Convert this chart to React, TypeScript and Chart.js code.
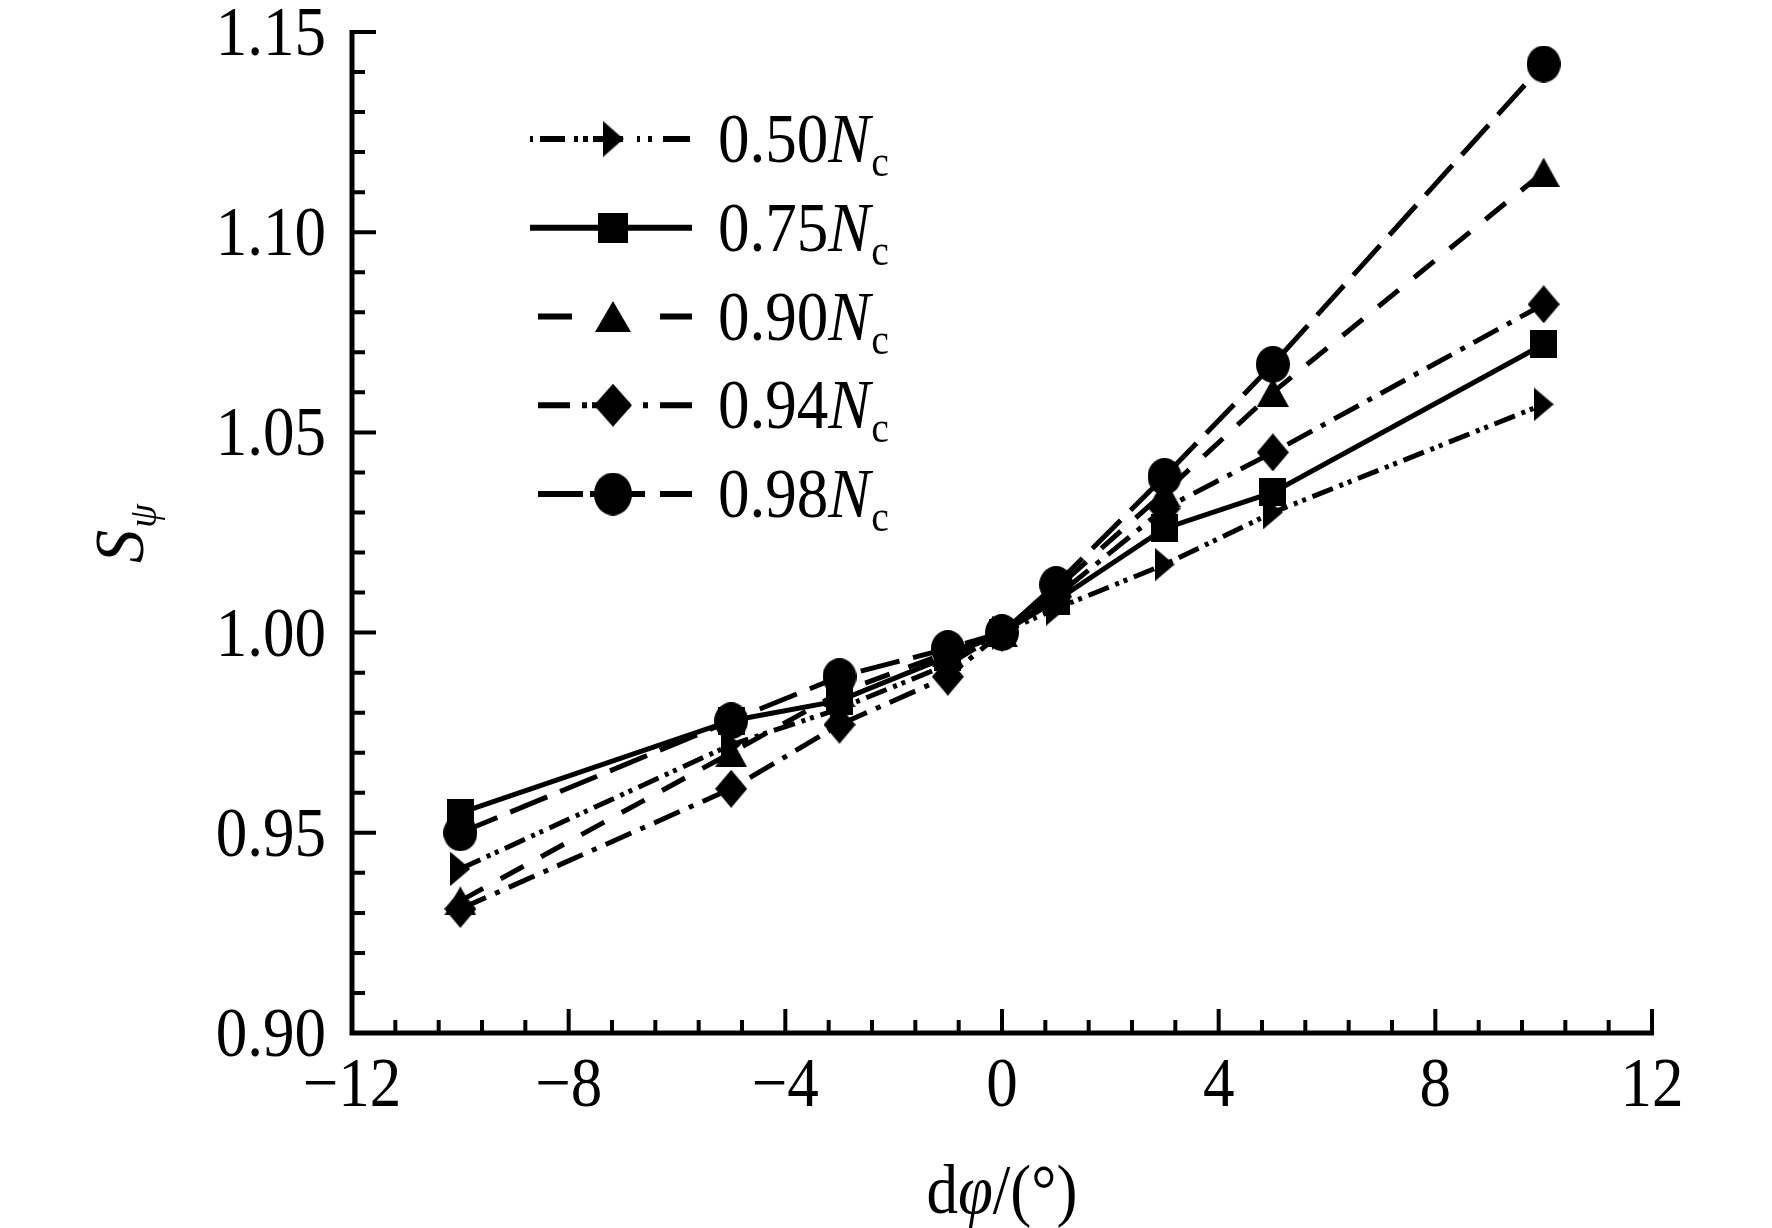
import React, { useEffect, useRef } from 'react';
import { Chart, registerables } from 'chart.js';

Chart.register(...registerables);

// ---------- data ----------
const xValues = [-10, -5, -3, -1, 0, 1, 3, 5, 10];
const series050 = [0.941, 0.972, 0.981, 0.992, 1.0, 1.006, 1.017, 1.03, 1.057];
const series075 = [0.955, 0.978, 0.983, 0.994, 1.0, 1.008, 1.026, 1.035, 1.072];
const series090 = [0.933, 0.97, 0.985, 0.995, 1.0, 1.011, 1.035, 1.06, 1.115];
const series094 = [0.931, 0.961, 0.977, 0.989, 1.0, 1.009, 1.031, 1.045, 1.082];
const series098 = [0.95, 0.978, 0.989, 0.996, 1.0, 1.012, 1.039, 1.067, 1.142];
const seriesLabels = ['0.50', '0.75', '0.90', '0.94', '0.98'];
const xTickValues = [-12, -8, -4, 0, 4, 8, 12];
const yTickValues = [0.9, 0.95, 1.0, 1.05, 1.1, 1.15];

const X_MIN = -12;
const X_MAX = 12;
const Y_MIN = 0.9;
const Y_MAX = 1.15;

const FONT = '"Liberation Serif", "Times New Roman", serif';
const FS = 70; // font size
const SX = 0.9; // horizontal squeeze of text (reference is vertically stretched)

type MarkerKind = 'rtri' | 'square' | 'tri' | 'diamond' | 'circle';

function makeMarker(kind: MarkerKind, w: number, h: number): HTMLCanvasElement {
  const c = document.createElement('canvas');
  c.width = w; c.height = h;
  const g = c.getContext('2d')!;
  g.fillStyle = '#000';
  g.beginPath();
  if (kind === 'rtri') {
    g.moveTo(0, 0); g.lineTo(w, h / 2); g.lineTo(0, h);
  } else if (kind === 'square') {
    g.rect(0, 0, w, h);
  } else if (kind === 'tri') {
    g.moveTo(w / 2, 0); g.lineTo(w, h); g.lineTo(0, h);
  } else if (kind === 'diamond') {
    g.moveTo(w / 2, 0); g.lineTo(w, h / 2); g.lineTo(w / 2, h); g.lineTo(0, h / 2);
  } else {
    g.ellipse(w / 2, h / 2, w / 2, h / 2, 0, 0, Math.PI * 2);
  }
  g.closePath();
  g.fill();
  return c;
}

const seriesValues = [series050, series075, series090, series094, series098];
const seriesDash = [
  [22, 7, 4, 5, 4, 7],
  [],
  [26, 20],
  [28, 10, 5, 10],
  [40, 14],
];
const seriesMarkers: MarkerKind[] = ['rtri', 'square', 'tri', 'diamond', 'circle'];
const plotMarkerSize: [number, number][] = [[20, 34], [27, 28], [32, 29], [32, 38], [34, 37]];
const legendMarkerSize: [number, number][] = [[21, 37], [30, 30], [36, 31], [38, 43], [38, 43]];
// legend line pieces, relative to the legend sample start
const legendSegments: [number, number][][] = [
  [[0, 3], [10, 35], [44, 48], [53, 58], [63, 93], [107, 110], [118, 122], [133, 160]],
  [[0, 162]],
  [[8, 42], [130, 162]],
  [[8, 40], [52, 57], [62, 100], [113, 118], [130, 162]],
  [[8, 53], [60, 115], [130, 162]],
];

function drawText(ctx: CanvasRenderingContext2D, text: string, x: number, y: number, size: number, italic: boolean, align: 'left' | 'right' | 'center' = 'left', sx = SX): number {
  ctx.save();
  ctx.font = `${italic ? 'italic ' : ''}${size}px ${FONT}`;
  const w = ctx.measureText(text).width;
  ctx.translate(x, y);
  ctx.scale(sx, 1);
  let ox = 0;
  if (align === 'right') ox = -w;
  if (align === 'center') ox = -w / 2;
  ctx.textAlign = 'left';
  ctx.textBaseline = 'alphabetic';
  ctx.fillStyle = '#000';
  ctx.fillText(text, ox, 0);
  ctx.restore();
  return w * sx;
}

function textWidth(ctx: CanvasRenderingContext2D, text: string, size: number, italic: boolean, sx = SX): number {
  ctx.save();
  ctx.font = `${italic ? 'italic ' : ''}${size}px ${FONT}`;
  const w = ctx.measureText(text).width;
  ctx.restore();
  return w * sx;
}

export default function App() {
  const ref = useRef<HTMLCanvasElement | null>(null);

  useEffect(() => {
    document.body.style.margin = '0';
    const canvas = ref.current!;
    const plotMarkers = seriesMarkers.map((k, i) => makeMarker(k, plotMarkerSize[i][0], plotMarkerSize[i][1]));
    const legendMarkers = seriesMarkers.map((k, i) => makeMarker(k, legendMarkerSize[i][0], legendMarkerSize[i][1]));

    const axesPlugin = {
      id: 'customAxes',
      afterDraw(chart: any) {
        const ctx: CanvasRenderingContext2D = chart.ctx;
        const xs = chart.scales.x;
        const ys = chart.scales.y;
        const x0 = xs.getPixelForValue(X_MIN);
        const x1 = xs.getPixelForValue(X_MAX);
        const y0 = ys.getPixelForValue(Y_MIN);
        const y1 = ys.getPixelForValue(Y_MAX);
        ctx.save();
        ctx.strokeStyle = '#000';
        ctx.lineCap = 'butt';
        ctx.lineWidth = 5;
        ctx.beginPath();
        ctx.moveTo(x0, y1 - 2);
        ctx.lineTo(x0, y0 + 2.5);
        ctx.moveTo(x0 - 2.5, y0);
        ctx.lineTo(x1 + 2, y0);
        ctx.stroke();
        ctx.lineWidth = 4;
        ctx.beginPath();
        for (let k = 0; k <= 25; k++) {
          const py = ys.getPixelForValue(Y_MIN + k * 0.01);
          const len = k % 5 === 0 ? 24 : 13;
          ctx.moveTo(x0, py);
          ctx.lineTo(x0 + len, py);
        }
        for (let k = 0; k <= 30; k++) {
          const px = xs.getPixelForValue(X_MIN + k * 0.8);
          const len = k % 5 === 0 ? 24 : 13;
          ctx.moveTo(px, y0);
          ctx.lineTo(px, y0 - len);
        }
        ctx.stroke();

        // tick labels
        for (const v of yTickValues) {
          const py = ys.getPixelForValue(v);
          drawText(ctx, v.toFixed(2), x0 - 26, py + 23, FS, false, 'right');
        }
        for (const v of xTickValues) {
          const px = xs.getPixelForValue(v);
          const label = v < 0 ? '\u2212' + Math.abs(v) : String(v);
          drawText(ctx, label, px, y0 + 73, FS, false, 'center');
        }

        // x title: dφ/(°)
        const parts: [string, boolean][] = [['d', false], ['φ', true], ['/(°)', false]];
        let total = 0;
        for (const [t, it] of parts) total += textWidth(ctx, t, FS, it);
        let cx = xs.getPixelForValue(0) - total / 2;
        for (const [t, it] of parts) cx += drawText(ctx, t, cx, 1213, FS, it);

        // y title: S_ψ rotated
        ctx.save();
        ctx.translate(143, 563);
        ctx.rotate(-Math.PI / 2);
        const sw = drawText(ctx, 'S', 0, 0, FS, true, 'left', 0.95);
        drawText(ctx, 'ψ', sw + 2, 13, 40, true, 'left', 0.95);
        ctx.restore();

        // legend
        const lx0 = 530;
        const lmx = 613;
        const tx = 718;
        for (let i = 0; i < seriesLabels.length; i++) {
          const cy = 139 + i * 88.75;
          ctx.save();
          ctx.lineWidth = 6;
          ctx.beginPath();
          for (const [a, b] of legendSegments[i]) {
            ctx.moveTo(lx0 + a, cy);
            ctx.lineTo(lx0 + b, cy);
          }
          ctx.stroke();
          ctx.restore();
          const m = legendMarkers[i];
          ctx.drawImage(m, lmx - m.width / 2, cy - m.height / 2);
          const base = cy + 23;
          let px = tx;
          px += drawText(ctx, seriesLabels[i], px, base, FS, false);
          px += drawText(ctx, 'N', px, base, FS, true) + 1;
          drawText(ctx, 'c', px, base + 14, 44, false);
        }
        ctx.restore();
      },
    };

    const datasets = seriesValues.map((vals, i) => ({
      label: seriesLabels[i],
      data: xValues.map((x, j) => ({ x, y: vals[j] })),
      borderColor: '#000',
      backgroundColor: '#000',
      borderWidth: 5,
      borderDash: seriesDash[i],
      pointStyle: plotMarkers[i],
      pointRadius: 18,
      tension: 0,
      fill: false,
    }));

    const chart = new Chart(canvas, {
      type: 'line',
      data: { datasets },
      options: {
        animation: false,
        responsive: false,
        events: [],
        layout: { padding: { left: 0, top: 32, right: 120, bottom: 0 } },
        plugins: { legend: { display: false }, tooltip: { enabled: false } },
        scales: {
          x: {
            type: 'linear',
            min: X_MIN,
            max: X_MAX,
            grid: { display: false, drawTicks: false },
            border: { display: false },
            ticks: { display: false },
            afterFit: (s: any) => { s.height = 195; },
          },
          y: {
            type: 'linear',
            min: Y_MIN,
            max: Y_MAX,
            grid: { display: false, drawTicks: false },
            border: { display: false },
            ticks: { display: false },
            afterFit: (s: any) => { s.width = 352; },
          },
        },
      },
      plugins: [axesPlugin],
    });

    return () => chart.destroy();
  }, []);

  return (
    <div style={{ position: 'fixed', left: 0, top: 0, width: 1772, height: 1228, background: '#fff' }}>
      <canvas ref={ref} width={1772} height={1228} />
    </div>
  );
}
